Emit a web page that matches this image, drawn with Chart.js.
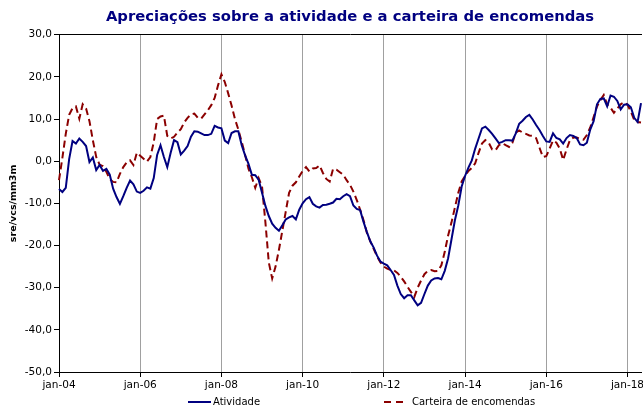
<!DOCTYPE html>
<html>
<head>
<meta charset="utf-8">
<script src="https://cdn.jsdelivr.net/npm/chart.js@4.4.1/dist/chart.umd.min.js"></script>
<style>
body { margin: 0; background: #fff; }
#wrap { position: relative; width: 643px; height: 410px; }
#legend { position: absolute; left: 0; top: 394px; width: 643px; height: 15px; font: 10px "DejaVu Sans", sans-serif; color: #000; }
.item { position: absolute; top: 0; height: 15px; display: flex; align-items: center; white-space: nowrap; }
.item svg { margin-right: 2px; }
</style>
</head>
<body>
<div id="wrap">
  <canvas id="myChart" width="643" height="410"></canvas>
  <div id="legend">
    <div class="item" style="left:188px"><svg width="23" height="4"><line x1="0" y1="2" x2="23" y2="2" stroke="#000080" stroke-width="2"/></svg>Atividade</div>
    <div class="item" style="left:384px"><svg width="26" height="4"><line x1="0" y1="2" x2="20" y2="2" stroke="#8b0000" stroke-width="2" stroke-dasharray="7,5"/></svg>Carteira de encomendas</div>
  </div>
</div>
<script>
// meses jan-04 .. mai-18
const monthNames = ['jan', 'fev', 'mar', 'abr', 'mai', 'jun', 'jul', 'ago', 'set', 'out', 'nov', 'dez'];
const firstYear = 2004;
const monthCount = 173;

const tickLabels = ['jan-04', 'jan-06', 'jan-08', 'jan-10', 'jan-12', 'jan-14', 'jan-16', 'jan-18'];

const atividade = [
    -6.6, -7.3, -6.3, 0.5, 4.8, 4.2, 5.4, 4.6, 3.6, -0.2, 0.9, -2.1,
    -0.9, -2.3, -1.8, -3.2, -6.5, -8.5, -10.1, -8.3, -6.3, -4.6, -5.5, -7.2,
    -7.5, -7.0, -6.2, -6.5, -4.0, 1.5, 3.8, 1.0, -1.4, 2.0, 5.0, 4.5,
    1.6, 2.5, 3.6, 5.8, 7.1, 7.0, 6.6, 6.2, 6.2, 6.5, 8.4, 8.0,
    7.8, 4.9, 4.3, 6.7, 7.1, 7.1, 3.8, 1.4, -0.6, -3.2, -3.3, -4.4,
    -7.5, -10.6, -13.0, -14.8, -15.8, -16.5, -15.2, -13.8, -13.3, -13.0, -13.8, -11.5,
    -10.0, -9.0, -8.5, -10.1, -10.7, -11.0, -10.4, -10.3, -10.1, -9.8, -8.9, -9.0,
    -8.3, -7.8, -8.3, -10.5, -11.3, -11.6, -14.4, -16.8, -19.0, -20.5, -22.4, -23.8,
    -24.3, -24.7, -25.8, -27.0, -29.5, -31.5, -32.5, -31.8, -31.8, -33.0, -34.2, -33.6,
    -31.5, -29.5, -28.3, -27.8, -27.7, -28.0, -26.0, -23.0, -18.5, -14.0, -10.5, -6.0,
    -3.5, -1.5, 0.2, 3.0, 5.4, 7.8, 8.2, 7.4, 6.5, 5.4, 4.3, 4.6,
    5.0, 5.0, 4.9, 6.6, 8.9, 9.6, 10.5, 11.0, 9.9, 8.6, 7.4, 6.0,
    4.7, 4.6, 6.6, 5.5, 5.2, 4.2, 5.5, 6.2, 6.0, 5.5, 4.0, 3.8,
    4.4, 7.5, 9.5, 13.5, 14.8, 14.9, 13.0, 15.6, 15.3, 14.3, 12.3, 13.4,
    13.5, 12.8, 10.3, 9.3, 13.8
];

const carteira = [
    -4.5, 0.8, 6.5, 11.0, 12.6, 13.0, 10.1, 13.5, 12.5, 9.5, 5.0, 1.0,
    -0.8, -1.2, -2.5, -4.2, -4.9, -5.0, -3.0, -1.4, -0.3, 0.2, -0.9, 2.0,
    1.3, 0.6, -0.1, 1.0, 4.5, 10.0, 10.6, 10.8, 6.0, 5.4, 5.8, 6.8,
    7.6, 9.2, 10.3, 11.1, 11.3, 10.3, 10.1, 11.1, 12.1, 13.3, 15.0, 18.0,
    20.6, 18.8, 16.1, 13.2, 10.0, 7.5, 4.6, 1.5, -1.8, -3.8, -6.3, -4.0,
    -6.0, -14.5, -24.0, -27.8, -25.0, -21.0, -16.5, -12.0, -7.5, -5.8, -5.0, -3.6,
    -2.3, -1.4, -2.4, -1.7, -1.6, -1.0, -2.8, -4.2, -4.8, -1.8, -2.0, -2.6,
    -3.2, -4.5, -5.6, -7.2, -9.2, -11.5, -14.0, -17.0, -19.0, -20.8, -22.6, -24.0,
    -25.0, -25.5, -25.8, -25.9, -26.5, -27.4, -28.5, -29.8, -31.0, -32.2, -30.0, -28.3,
    -26.8, -26.0, -25.8, -26.1, -26.0, -24.7, -21.5, -17.6, -14.5, -11.0, -7.5, -4.8,
    -3.5, -2.3, -1.6, -0.5, 2.0, 4.2, 5.0, 4.4, 2.8, 2.6, 3.8, 4.3,
    3.8, 3.4, 4.4, 6.8, 7.3, 6.8, 6.5, 6.1, 6.0, 5.5, 3.2, 1.0,
    1.2, 3.0, 4.9, 4.4, 3.0, 0.3, 2.8, 5.0, 5.6, 5.6, 5.3, 5.1,
    6.2, 8.0, 10.5, 13.0, 14.5, 15.7, 13.5, 12.7, 11.5, 12.5, 13.5, 14.0,
    13.4, 11.8, 9.8, 9.3, 9.2
];

const labels = [];
for (let i = 0; i < monthCount; i++) {
    const yy = String((firstYear + Math.floor(i / 12)) % 100).padStart(2, '0');
    labels.push(monthNames[i % 12] + '-' + yy);
}

const tickFont = { family: '"DejaVu Sans", sans-serif', size: 10.5 };
const isMarked = (ctx) => tickLabels.includes(labels[ctx.index]);

window.onload = function() {
    const ctx = document.getElementById('myChart').getContext('2d');
    new Chart(ctx, {
        type: 'line',
        data: {
            labels: labels,
            datasets: [
                {
                    label: 'Atividade',
                    data: atividade,
                    borderColor: '#000080',
                    borderWidth: 2,
                    pointRadius: 0,
                    tension: 0,
                    fill: false
                },
                {
                    label: 'Carteira de encomendas',
                    data: carteira,
                    borderColor: '#8b0000',
                    borderWidth: 2,
                    borderDash: [7, 4],
                    pointRadius: 0,
                    tension: 0,
                    fill: false
                }
            ]
        },
        options: {
            responsive: false,
            animation: false,
            devicePixelRatio: 1,
            layout: { padding: { left: 0, right: 2, top: 0, bottom: 14 } },
            plugins: {
                legend: { display: false },
                tooltip: { enabled: false },
                title: {
                    display: true,
                    fullSize: false,
                    text: 'Apreciações sobre a atividade e a carteira de encomendas',
                    color: '#000080',
                    font: { family: '"DejaVu Sans", sans-serif', size: 14.8, weight: 'bold' },
                    padding: { top: 8, bottom: 9 }
                }
            },
            scales: {
                x: {
                    type: 'category',
                    position: 'bottom',
                    afterFit: (scale) => { scale.height = 24; },
                    border: { display: true, color: '#000', width: 1 },
                    grid: {
                        drawOnChartArea: true,
                        drawTicks: true,
                        tickLength: 5,
                        color: (c) => isMarked(c) ? '#a0a0a0' : 'rgba(0,0,0,0)',
                        tickColor: (c) => isMarked(c) ? '#000' : 'rgba(0,0,0,0)'
                    },
                    ticks: {
                        autoSkip: false,
                        maxRotation: 0,
                        padding: 2,
                        color: '#000',
                        font: tickFont,
                        callback: function(value, index) {
                            const l = labels[index];
                            return tickLabels.includes(l) ? l : '';
                        }
                    }
                },
                xTop: {
                    type: 'category',
                    position: 'top',
                    border: { display: true, color: '#000', width: 1 },
                    grid: { drawOnChartArea: false, drawTicks: false },
                    ticks: { display: false }
                },
                y: {
                    min: -50,
                    max: 30,
                    afterFit: (scale) => { scale.width = 59; },
                    border: { display: true, color: '#000', width: 1 },
                    grid: { drawOnChartArea: false, drawTicks: true, tickLength: 5, tickColor: '#000' },
                    ticks: {
                        stepSize: 10,
                        padding: 2,
                        color: '#000',
                        font: tickFont,
                        callback: (v) => v.toFixed(1).replace('.', ',')
                    },
                    title: {
                        display: true,
                        text: 'sre/vcs/mm3m',
                        color: '#000',
                        font: { family: '"DejaVu Sans", sans-serif', size: 9.5, weight: 'bold' },
                        padding: { top: 8, bottom: 0 }
                    }
                }
            }
        }
    });
};
</script>
</body>
</html>
